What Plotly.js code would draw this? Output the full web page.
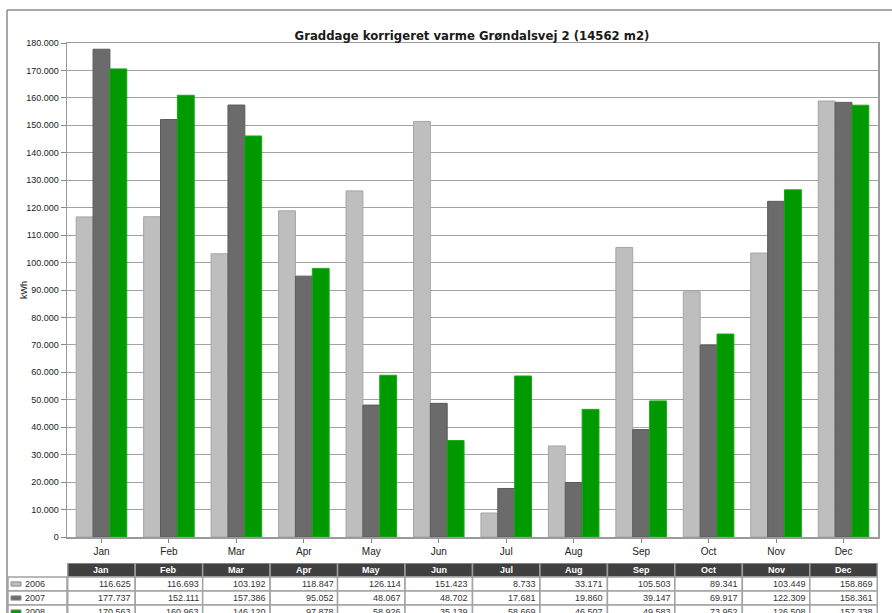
<!DOCTYPE html>
<html>
<head>
<meta charset="utf-8">
<script src="https://cdn.plot.ly/plotly-3.0.1.min.js"></script>
<style>
html,body{margin:0;padding:0;overflow:hidden;background:#fff;}
#chart{width:892px;height:630px;}
</style>
</head>
<body>
<div id="chart"></div>
<script>
const months = ['Jan','Feb','Mar','Apr','May','Jun','Jul','Aug','Sep','Oct','Nov','Dec'];
const years = ['2006','2007','2008'];
const v2006 = [116625,116693,103192,118847,126114,151423,8733,33171,105503,89341,103449,158869];
const v2007 = [177737,152111,157386,95052,48067,48702,17681,19860,39147,69917,122309,158361];
const v2008 = [170563,160963,146120,97878,58926,35139,58669,46507,49583,73952,126508,157338];
const yTicks = [0,10000,20000,30000,40000,50000,60000,70000,80000,90000,100000,110000,120000,130000,140000,150000,160000,170000,180000];

const W = 892, H = 630;
const px = x => x / W;
const py = y => 1 - y / H;

const colors = ['#bebebe', '#6b6b6b', '#009a00'];
const edge = ['#a5a5a5', '#5c5c5c', '#1aa81a'];
const series = [v2006, v2007, v2008];

const fmt = v => String(v).replace(/\B(?=(\d{3})+(?!\d))/g, '.');

const traces = series.map((vals, i) => ({
  type: 'bar',
  name: years[i],
  x: months,
  y: vals,
  marker: {color: colors[i], line: {color: edge[i], width: 1}},
  hoverinfo: 'none'
}));

// data table under the chart: columns follow the x axis categories, rows follow yaxis2
const shapes = [
  {type: 'line', xref: 'paper', yref: 'paper', x0: px(7), x1: 1, y0: py(10), y1: py(10),
   line: {color: '#8a8a8a', width: 1.5}},
  {type: 'line', xref: 'paper', yref: 'paper', x0: px(7), x1: px(7), y0: py(10), y1: 0,
   line: {color: '#8a8a8a', width: 1.5}}
];
const annotations = [{
  text: 'kWh', xref: 'paper', yref: 'paper',
  x: px(17), y: py(290), textangle: -90, showarrow: false,
  font: {family: 'Liberation Sans, Arial', size: 9, color: '#222'}
}];
const cellFont = {family: 'Liberation Sans, Arial', size: 9, color: '#333333'};
const hdrFont = {family: 'Liberation Sans, Arial', size: 9, color: '#ffffff'};

months.forEach((m, c) => {
  shapes.push({type: 'rect', xref: 'x', yref: 'y2', x0: c - 0.5, x1: c + 0.5, y0: -0.5, y1: 0.5,
    fillcolor: '#404040', line: {color: '#9c9c9c', width: 1.5}, layer: 'above'});
  annotations.push({text: '<b>' + m + '</b>', xref: 'x', yref: 'y2', x: c, y: 0,
    showarrow: false, font: hdrFont, xanchor: 'center', yanchor: 'middle'});
  series.forEach((s, r) => {
    shapes.push({type: 'rect', xref: 'x', yref: 'y2', x0: c - 0.5, x1: c + 0.5, y0: r + 0.5, y1: r + 1.5,
      fillcolor: '#ffffff', line: {color: '#a3a3a3', width: 1.5}, layer: 'above'});
    annotations.push({text: fmt(s[c]), xref: 'x', yref: 'y2', x: c + 0.47, y: r + 1,
      showarrow: false, font: cellFont, xanchor: 'right', yanchor: 'middle'});
  });
});
// legend column of the table
years.forEach((y, r) => {
  shapes.push({type: 'rect', xref: 'paper', yref: 'y2', x0: px(8), x1: px(67), y0: r + 0.5, y1: r + 1.5,
    fillcolor: '#ffffff', line: {color: '#a3a3a3', width: 1.5}, layer: 'above'});
  shapes.push({type: 'rect', xref: 'paper', yref: 'y2', x0: px(11), x1: px(21), y0: r + 0.85, y1: r + 1.15,
    fillcolor: colors[r], line: {color: '#8c8c8c', width: 1}, layer: 'above'});
  annotations.push({text: y, xref: 'paper', yref: 'y2', x: px(23), y: r + 1,
    showarrow: false, font: cellFont, xanchor: 'left', yanchor: 'middle'});
});

const layout = {
  width: W, height: H,
  margin: {l: 0, r: 0, t: 0, b: 0},
  paper_bgcolor: '#ffffff',
  plot_bgcolor: '#ffffff',
  showlegend: false,
  separators: ',.',
  barmode: 'group',
  bargap: 0.25,
  bargroupgap: 0,
  title: {
    text: 'Graddage korrigeret varme Grøndalsvej 2 (14562 m2)',
    font: {family: 'DejaVu Sans, Verdana', size: 11.7, color: '#1a1a1a', weight: 700},
    x: px(472), xanchor: 'center', xref: 'container',
    y: py(36), yanchor: 'middle', yref: 'container'
  },
  xaxis: {
    domain: [px(67), px(878)],
    showline: true, mirror: true, linecolor: '#9a9a9a', linewidth: 1.5,
    ticks: 'outside', ticklen: 4, tickcolor: '#888', tickwidth: 1,
    tickfont: {family: 'Liberation Sans, Arial', size: 10, color: '#222'},
    showgrid: false,
    fixedrange: true
  },
  yaxis: {
    domain: [py(537), py(43)],
    range: [0, 180000],
    tickvals: yTicks,
    tickformat: ',d',
    showline: true, mirror: true, linecolor: '#9a9a9a', linewidth: 1.5,
    ticks: 'outside', ticklen: 5, tickcolor: '#888', tickwidth: 1,
    tickfont: {family: 'Liberation Sans, Arial', size: 9, color: '#222'},
    showgrid: true, gridcolor: '#a3a3a3', gridwidth: 1,
    zeroline: false,
    fixedrange: true
  },
  yaxis2: {
    domain: [0, py(563)],
    anchor: 'x',
    range: [-0.5 + 67 / 14, -0.5],
    visible: false,
    showgrid: false, zeroline: false,
    fixedrange: true
  },
  annotations: annotations,
  shapes: shapes
};

Plotly.newPlot('chart', traces, layout, {displayModeBar: false, staticPlot: true});
</script>
</body>
</html>
